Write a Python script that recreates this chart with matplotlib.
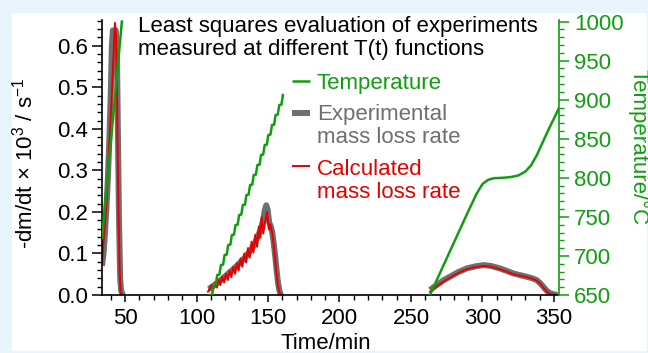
import matplotlib
matplotlib.use("Agg")
import matplotlib.pyplot as plt
from matplotlib.patches import Rectangle
from matplotlib.ticker import MultipleLocator, FormatStrFormatter

plt.rcParams['font.family'] = ['Liberation Sans', 'DejaVu Sans']
plt.rcParams['mathtext.fontset'] = 'custom'
plt.rcParams['mathtext.rm'] = 'Liberation Sans'
plt.rcParams['mathtext.it'] = 'Liberation Sans:italic'

GRAY = '#6f6f6f'
RED = '#e60000'
GREEN = '#109e10'
FS = 16

# --- experiment 1 (fast heating)
t_exp1 = [33.9, 35, 36, 37, 38, 39, 40, 40.8, 41.5, 43.5, 44.3, 45.0, 45.8, 46.6, 47.3, 48.5]
exp1 = [0.07, 0.10, 0.15, 0.21, 0.28, 0.37, 0.48, 0.60, 0.637, 0.637, 0.60, 0.40, 0.18, 0.04, 0.01, 0.0]
t_calc1 = [33.9, 35, 36, 37, 38, 39, 40, 41, 42, 43, 43.8, 44.5, 45.3, 46.2, 47.0, 48.0]
calc1 = [0.08, 0.13, 0.17, 0.22, 0.29, 0.36, 0.43, 0.50, 0.58, 0.655, 0.62, 0.45, 0.22, 0.06, 0.005, 0.0]
t_temp1 = [33.9, 47.8]
temp1 = [723, 1000]

# --- experiment 2 (stepwise heating)
t_exp2 = [108, 109.5, 111, 113, 115, 117, 119, 121, 123, 125, 127, 129, 131, 133, 135, 137,
          139, 141, 143, 144.5, 145.6, 146.8, 147.8, 148.8, 149.8, 150.8, 152, 153, 154, 155,
          156, 157, 158, 159]
exp2 = [0.015, 0.016, 0.02, 0.025, 0.03, 0.036, 0.042, 0.048, 0.054, 0.06, 0.066, 0.073, 0.08,
        0.087, 0.095, 0.104, 0.114, 0.126, 0.142, 0.155, 0.166, 0.185, 0.205, 0.216, 0.205,
        0.175, 0.165, 0.15, 0.125, 0.095, 0.06, 0.03, 0.01, 0.0]
t_calc2 = [108.0, 109.3, 110.4, 111.6, 112.9, 114.2, 115.5, 116.7, 118.0, 119.3, 120.6, 121.9,
           123.1, 124.4, 125.7, 127.0, 128.3, 129.5, 130.8, 132.1, 133.4, 134.7, 136.0, 137.2,
           138.5, 139.8, 141.1, 142.4, 143.6, 144.6, 145.6, 146.7, 147.8, 149.4, 150.6, 151.7,
           153.0, 154.0, 155.0, 156.0, 157.0, 158.0, 159.0]
calc2 = [0.008, 0.014, 0.024, 0.013, 0.03, 0.018, 0.037, 0.024, 0.044, 0.03, 0.051, 0.036,
         0.059, 0.043, 0.068, 0.051, 0.077, 0.059, 0.088, 0.068, 0.1, 0.078, 0.113, 0.09,
         0.128, 0.102, 0.145, 0.116, 0.165, 0.138, 0.187, 0.148, 0.172, 0.2, 0.158, 0.17,
         0.148, 0.12, 0.085, 0.05, 0.022, 0.006, 0.0]
t_temp2 = [109.4, 110.9, 112.0, 113.5, 114.5, 116.0, 117.1, 118.6, 119.6, 121.1, 122.2, 123.7,
           124.7, 126.2, 127.3, 128.8, 129.8, 131.3, 132.4, 133.9, 134.9, 136.4, 137.5, 139.0,
           140.0, 141.5, 142.6, 144.1, 145.1, 146.6, 147.7, 149.2, 150.2, 151.7, 152.8, 154.3,
           155.3, 156.8, 157.9, 159.4, 160.4]
temp2 = [650, 650.5, 662.8, 663.3, 675.6, 676.1, 688.4, 688.9, 701.2, 701.7, 714, 714.5,
         726.8, 727.3, 739.6, 740.1, 752.4, 752.9, 765.2, 765.7, 778, 778.5, 790.8, 791.3,
         803.6, 804.1, 816.4, 816.9, 829.2, 829.7, 842, 842.5, 854.8, 855.3, 867.6, 868.1,
         880.4, 880.9, 893.2, 893.7, 906]

# --- experiment 3 (heating with isothermal section)
t_exp3 = [263.3, 268, 273, 277.3, 283, 289, 295, 300.6, 306, 312.2, 317, 321.5, 326, 330.9,
          335, 337.9, 340.5, 342.5, 345, 347, 349.5, 352.5]
exp3 = [0.012, 0.024, 0.036, 0.044, 0.055, 0.064, 0.069, 0.072, 0.070, 0.064, 0.058, 0.052,
        0.048, 0.044, 0.040, 0.036, 0.028, 0.02, 0.01, 0.005, 0.002, 0.0]
t_calc3 = [263.3, 268, 273, 277.3, 283, 289, 295, 300.6, 306, 312.2, 317, 321.5, 326, 330.9,
           335, 337.9, 340.5, 342.5, 345, 347, 349.5, 352.5]
calc3 = [0.008, 0.021, 0.033, 0.042, 0.053, 0.062, 0.067, 0.070, 0.068, 0.062, 0.056, 0.050,
         0.047, 0.043, 0.039, 0.035, 0.027, 0.018, 0.008, 0.003, 0.001, 0.0]
t_temp3 = [263.3, 270, 280, 290, 296, 300, 304, 308, 314, 320, 325, 330, 334, 338, 342, 346,
           350, 353.7]
temp3 = [650, 677, 717, 757, 780, 792, 797.5, 799.5, 800, 801, 803, 808, 816, 829, 845, 861,
         876, 890]

fig = plt.figure(figsize=(6.48, 3.53), dpi=100, facecolor='#e9f5fc')
fig.patches.append(Rectangle((0.0185, 0.0057), 0.98, 0.9575, transform=fig.transFigure,
                             facecolor='white', edgecolor='none', zorder=-10))

ax = fig.add_axes([0.1574, 0.1643, 0.7052, 0.779])
ax.set_facecolor('none')
ax2 = ax.twinx()

for t, v in [(t_exp1, exp1), (t_exp2, exp2), (t_exp3, exp3)]:
    ax.plot(t, v, color=GRAY, lw=4.3, solid_capstyle='butt')
for t, v in [(t_calc1, calc1), (t_calc2, calc2), (t_calc3, calc3)]:
    ax.plot(t, v, color=RED, lw=1.4)
for t, v in [(t_temp1, temp1), (t_temp2, temp2), (t_temp3, temp3)]:
    ax2.plot(t, v, color=GREEN, lw=1.8)

ax.set_xlim(33.9, 353.5)
ax.set_ylim(0, 0.662)
ax2.set_ylim(650, 1002)

ax.xaxis.set_major_locator(MultipleLocator(50))
ax.xaxis.set_minor_locator(MultipleLocator(10))
ax.yaxis.set_major_locator(MultipleLocator(0.1))
ax.yaxis.set_minor_locator(MultipleLocator(0.02))
ax2.yaxis.set_major_locator(MultipleLocator(50))
ax2.yaxis.set_minor_locator(MultipleLocator(10))
ax.yaxis.set_major_formatter(FormatStrFormatter('%.1f'))

for a in (ax, ax2):
    a.spines['top'].set_visible(False)
    for s in a.spines.values():
        s.set_linewidth(1.2)
ax.spines['right'].set_visible(False)
ax2.spines['left'].set_visible(False)
ax2.spines['bottom'].set_visible(False)
ax2.spines['right'].set_color(GREEN)

ax.tick_params(axis='x', which='major', direction='out', length=5, width=1.1, labelsize=FS, pad=4)
ax.tick_params(axis='x', which='minor', direction='out', length=3.5, width=1.0)
ax.tick_params(axis='y', which='major', direction='out', length=7, width=1.1, labelsize=FS, pad=3)
ax.tick_params(axis='y', which='minor', direction='out', length=3.6, width=1.0)
ax2.tick_params(axis='y', which='major', direction='out', length=7, width=1.1, labelsize=FS,
                pad=4, color=GREEN, labelcolor=GREEN)
ax2.tick_params(axis='y', which='minor', direction='out', length=3.6, width=1.0, color=GREEN)

fig.text(0.0386, 0.538, '-dm/dt × 10$^3$ / s$^{-1}$', rotation=90, ha='center', va='center',
         fontsize=FS)
fig.text(0.9846, 0.582, 'Temperature/°C', rotation=270, ha='center', va='center',
         fontsize=FS, color=GREEN)
fig.text(0.503, 0.0113, 'Time/min', ha='center', va='baseline', fontsize=FS)

ax.text(0.078, 0.9564, 'Least squares evaluation of experiments', transform=ax.transAxes,
        fontsize=FS, va='baseline')
ax.text(0.078, 0.8727, 'measured at different T(t) functions', transform=ax.transAxes,
        fontsize=FS, va='baseline')

# legend drawn by hand: handle on first line of each label
legend_rows = [
    (0.7782, GREEN, 1.8, ['Temperature'], [0.749]),
    (0.663, GRAY, 4.3, ['Experimental', 'mass loss rate'], [0.6364, 0.5515]),
    (0.469, RED, 1.4, ['Calculated', 'mass loss rate'], [0.4364, 0.3515]),
]
for hy, col, lw, lines, ys in legend_rows:
    ax.plot([0.4158, 0.4551], [hy, hy], transform=ax.transAxes, color=col, lw=lw,
            solid_capstyle='butt', clip_on=False)
    for txt, ty in zip(lines, ys):
        ax.text(0.4705, ty, txt, transform=ax.transAxes, fontsize=FS, va='baseline', color=col)

fig.savefig('out.png', dpi=100, facecolor=fig.get_facecolor())
